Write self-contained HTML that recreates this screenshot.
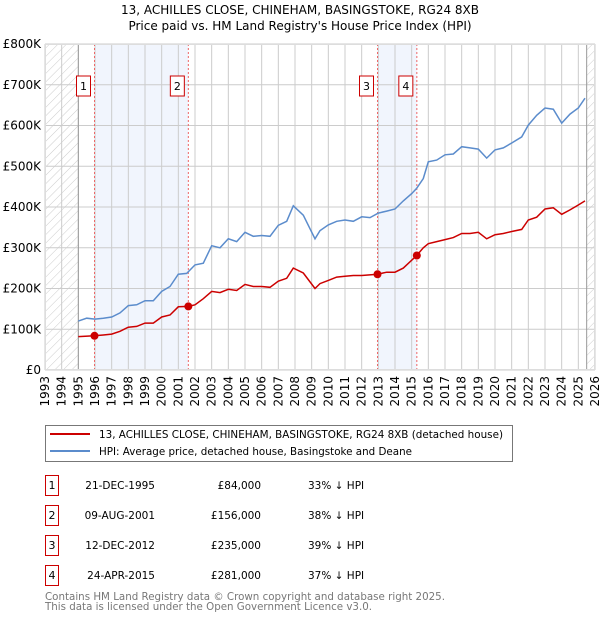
<!DOCTYPE html>
<html><head><meta charset="utf-8"><style>
body{margin:0;background:#fff;width:600px;height:620px;overflow:hidden;font-family:"DejaVu Sans","Liberation Sans",sans-serif;}
svg text{font-family:"DejaVu Sans","Liberation Sans",sans-serif;}
</style></head><body>
<svg id="c" width="600" height="620" xmlns="http://www.w3.org/2000/svg">
<defs><pattern id="hatch" width="6" height="6" patternUnits="userSpaceOnUse" patternTransform="rotate(45)"><line x1="0" y1="0" x2="0" y2="6" stroke="#ccc" stroke-width="1"/></pattern></defs>
<text x="300" y="14" text-anchor="middle" font-size="12">13, ACHILLES CLOSE, CHINEHAM, BASINGSTOKE, RG24 8XB</text>
<text x="300" y="30" text-anchor="middle" font-size="12">Price paid vs. HM Land Registry's House Price Index (HPI)</text>
<g id="plot"></g>
<g>
<rect x="45.5" y="425.5" width="467" height="36" fill="#fff" stroke="#777"/>
<line x1="50" y1="434" x2="90" y2="434" stroke="#cc0000" stroke-width="2"/>
<text x="99" y="438" font-size="10.5" textLength="404" lengthAdjust="spacingAndGlyphs">13, ACHILLES CLOSE, CHINEHAM, BASINGSTOKE, RG24 8XB (detached house)</text>
<line x1="50" y1="451" x2="90" y2="451" stroke="#5b8ccc" stroke-width="2"/>
<text x="99" y="455" font-size="10.5" textLength="313" lengthAdjust="spacingAndGlyphs">HPI: Average price, detached house, Basingstoke and Deane</text>
</g>
<g id="tbl" font-size="11"></g>
<text x="45" y="600" font-size="10.5" fill="#777" textLength="400" lengthAdjust="spacingAndGlyphs">Contains HM Land Registry data © Crown copyright and database right 2025.</text>
<text x="45" y="610" font-size="10.5" fill="#777" textLength="327" lengthAdjust="spacingAndGlyphs">This data is licensed under the Open Government Licence v3.0.</text>
</svg>
<script>
const hpiYears=[1995,1995.5,1996,1996.5,1997,1997.5,1998,1998.5,1999,1999.5,2000,2000.5,2001,2001.5,2002,2002.5,2003,2003.5,2004,2004.5,2005,2005.5,2006,2006.5,2007,2007.5,2007.9,2008.5,2009.2,2009.5,2010,2010.5,2011,2011.5,2012,2012.5,2013,2013.5,2014,2014.5,2015,2015.3,2015.7,2016,2016.5,2017,2017.5,2018,2018.5,2019,2019.5,2020,2020.5,2021,2021.6,2022,2022.5,2023,2023.5,2024,2024.5,2025,2025.4];
const hpiValues=[120,127,125,127,130,140,158,160,170,170,193,205,235,237,258,262,305,300,322,315,338,328,330,328,355,365,403,380,322,342,356,365,368,365,376,374,385,390,395,415,433,446,470,511,515,528,530,548,545,542,520,540,545,557,572,601,625,643,640,606,628,643,667];
const ppYears=[1995,1995.97,1996.5,1997,1997.5,1998,1998.5,1999,1999.5,2000,2000.5,2001,2001.6,2002,2002.5,2003,2003.5,2004,2004.5,2005,2005.5,2006,2006.5,2007,2007.5,2007.9,2008.5,2009.2,2009.5,2010,2010.5,2011,2011.5,2012,2012.95,2013.5,2014,2014.5,2015.3,2015.7,2016,2016.5,2017,2017.5,2018,2018.5,2019,2019.5,2020,2020.5,2021,2021.6,2022,2022.5,2023,2023.5,2024,2024.5,2025,2025.4];
const ppValues=[82,84,86,88,95,105,107,115,115,130,135,155,156,160,175,193,190,198,195,210,205,205,203,218,225,250,238,200,212,220,228,230,232,232,235,240,240,250,281,300,310,315,320,325,335,335,338,322,332,335,340,345,368,375,395,398,382,393,405,415];
const sales=[{n:'1',t:1995.97,v:84,d:'21-DEC-1995',p:'£84,000',h:'33% ↓ HPI'},{n:'2',t:2001.6,v:156,d:'09-AUG-2001',p:'£156,000',h:'38% ↓ HPI'},{n:'3',t:2012.95,v:235,d:'12-DEC-2012',p:'£235,000',h:'39% ↓ HPI'},{n:'4',t:2015.31,v:281,d:'24-APR-2015',p:'£281,000',h:'37% ↓ HPI'}];
const yTicks=[0,100,200,300,400,500,600,700,800];
const yLabels=['£0','£100K','£200K','£300K','£400K','£500K','£600K','£700K','£800K'];
const NS='http://www.w3.org/2000/svg';
const x0=45,x1=595,y0=370,y1=44;
const X=t=>x0+(t-1993)/(2026-1993)*(x1-x0);
const Y=v=>y0-v/800*(y0-y1);
const g=document.getElementById('plot');
function mk(tag,attrs,parent){const e=document.createElementNS(NS,tag);for(const k in attrs)e.setAttribute(k,attrs[k]);(parent||g).appendChild(e);return e;}
mk('rect',{x:x0,y:y1,width:x1-x0,height:y0-y1,fill:'#fff'});
let r=mk('rect',{x:x0,y:y1,width:X(1995)-x0,height:y0-y1,fill:'url(#hatch)'});


r=mk('rect',{x:X(2025.5),y:y1,width:x1-X(2025.5),height:y0-y1,fill:'url(#hatch)'});


[[0,1],[2,3]].forEach(p=>{const b=mk('rect',{x:X(sales[p[0]].t),y:y1,width:X(sales[p[1]].t)-X(sales[p[0]].t),height:y0-y1,fill:'#eef3fc',opacity:0.8});

});
for(let yr=1993;yr<=2026;yr++){mk('line',{x1:X(yr),x2:X(yr),y1:y1,y2:y0,stroke:'#ccc','stroke-width':1});
const t=mk('text',{x:0,y:0,'font-size':12,'text-anchor':'end',transform:`translate(${X(yr)+4},${y0+6}) rotate(-90)`});t.textContent=yr;

}
yTicks.forEach((v,i)=>{mk('line',{x1:x0,x2:x1,y1:Y(v),y2:Y(v),stroke:'#ccc','stroke-width':1});
const t=mk('text',{x:x0-4,y:Y(v)+4,'font-size':12,'text-anchor':'end'});t.textContent=yLabels[i];

});
mk('line',{x1:X(1995),x2:X(1995),y1:y1,y2:y0,stroke:'#999','stroke-width':1});
mk('line',{x1:X(2025.5),x2:X(2025.5),y1:y1,y2:y0,stroke:'#999','stroke-width':1});
sales.forEach(s=>{const l=mk('line',{x1:X(s.t),x2:X(s.t),y1:y1,y2:y0,stroke:'#e66','stroke-width':1,'stroke-dasharray':'2,2'});


const b=mk('rect',{x:X(s.t)-18,y:76,width:14,height:20,fill:'#fff',stroke:'#cc0000'});


const t=mk('text',{x:X(s.t)-11,y:90,'font-size':11,'text-anchor':'middle'});t.textContent=s.n;});
const hp=mk('path',{d:hpiYears.map((t,i)=>(i?'L':'M')+X(t).toFixed(1)+','+Y(hpiValues[i]).toFixed(1)).join(''),fill:'none',stroke:'#5b8ccc','stroke-width':1.5});


const pp=mk('path',{d:ppYears.map((t,i)=>(i?'L':'M')+X(t).toFixed(1)+','+Y(ppValues[i]).toFixed(1)).join(''),fill:'none',stroke:'#cc0000','stroke-width':1.5});


sales.forEach(s=>{const c=mk('circle',{cx:X(s.t),cy:Y(s.v),r:4,fill:'#cc0000'});

});
mk('rect',{x:x0+0.5,y:y1+0.5,width:x1-x0-1,height:y0-y1-1,fill:'none',stroke:'#ddd'});
const tb=document.getElementById('tbl');
sales.forEach((s,i)=>{const yy=475+i*30;
const b=mk('rect',{x:45.5,y:yy+0.5,width:13,height:20,fill:'#fff',stroke:'#cc0000'},tb);


let t=mk('text',{x:52,y:yy+14,'text-anchor':'middle'},tb);t.textContent=s.n;
t=mk('text',{x:155,y:yy+14,'text-anchor':'end','font-size':10.5},tb);t.textContent=s.d;


t=mk('text',{x:261,y:yy+14,'text-anchor':'end','font-size':10.5},tb);t.textContent=s.p;


t=mk('text',{x:308,y:yy+14,'font-size':10.5},tb);t.textContent=s.h;

});
</script>
</body></html>
